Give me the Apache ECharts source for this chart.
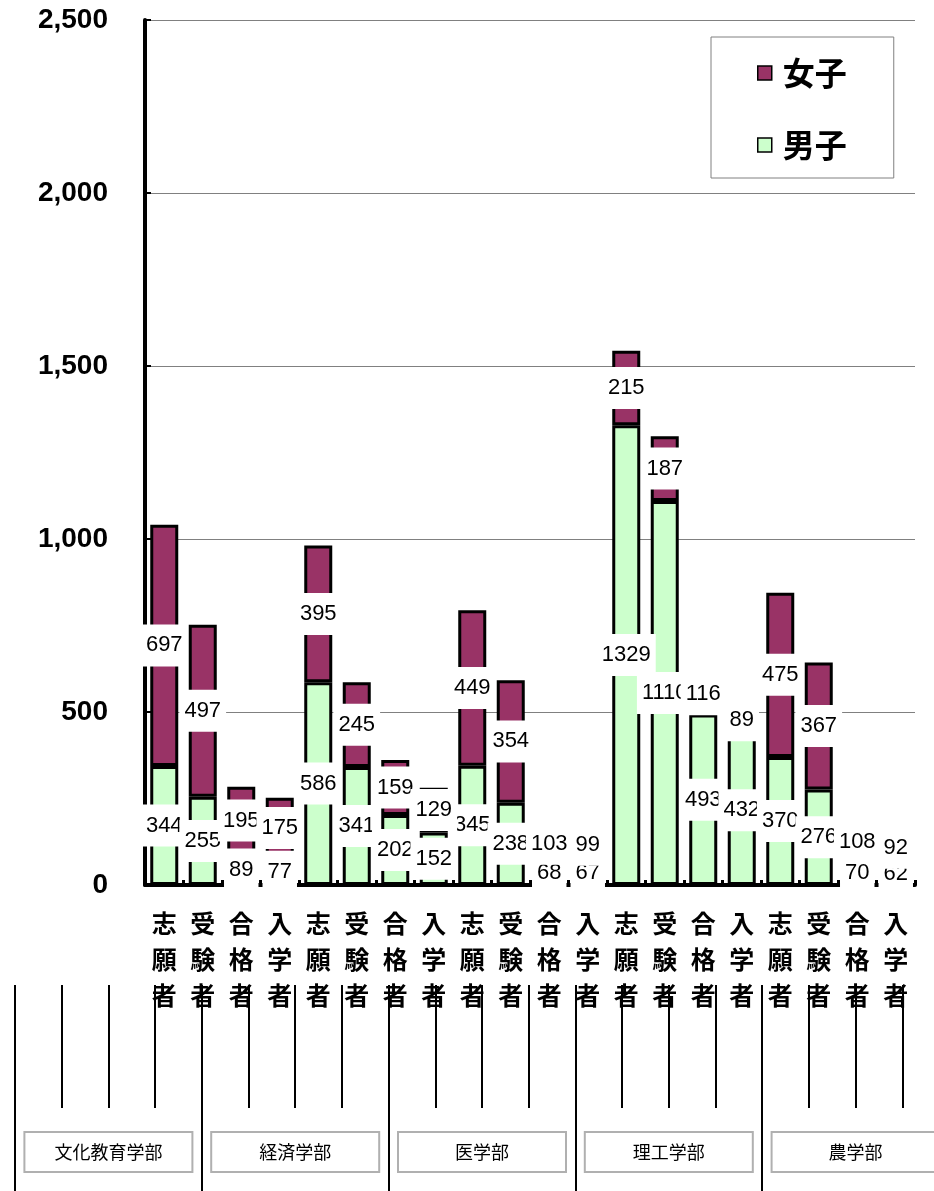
<!DOCTYPE html>
<html>
<head>
<meta charset="utf-8">
<script src="https://cdn.jsdelivr.net/npm/echarts@6/dist/echarts.min.js"></script>
<style>
  html, body { margin: 0; padding: 0; background: #fff; overflow: hidden; }
  /* a bit wider than the window so the lower 学部 row can run past the right edge */
  #chart { width: 950px; height: 1191px; }
</style>
</head>
<body>
<div id="chart"></div>
<script>
// 区分 (each faculty: 志願者, 受験者, 合格者, 入学者)
const stages = ['志願者', '受験者', '合格者', '入学者',
                '志願者', '受験者', '合格者', '入学者',
                '志願者', '受験者', '合格者', '入学者',
                '志願者', '受験者', '合格者', '入学者',
                '志願者', '受験者', '合格者', '入学者']
const faculties = ['文化教育学部', '経済学部', '医学部', '理工学部', '農学部']

const male   = [344, 255, 89, 77, 586, 341, 202, 152, 345, 238, 68, 67, 1329, 1110, 493, 432, 370, 276, 70, 62]
const female = [697, 497, 195, 175, 395, 245, 159, 129, 449, 354, 103, 99, 215, 187, 116, 89, 475, 367, 108, 92]

const yTicks = { min: 0, max: 2500, interval: 500 }

const chart = echarts.init(document.getElementById('chart'))

const valueLabel = {
	show: true,
	position: 'inside',
	formatter: '{c}',
	color: '#000',
	fontFamily: 'Liberation Sans',
	fontSize: 22,
	backgroundColor: '#fff',
	padding: [10, 5]
}

chart.setOption({
	animation: false,
	legend: {
		data: ['女子', '男子'],
		orient: 'vertical',
		left: 711,
		top: 37,
		padding: [20, 47, 17, 46],
		itemGap: 40,
		itemWidth: 14,
		itemHeight: 14,
		icon: 'rect',
		itemStyle: { borderColor: '#000', borderWidth: 1.5 },
		borderColor: '#808080',
		borderWidth: 1,
		textStyle: { fontFamily: 'Noto Sans CJK JP', fontSize: 32, fontWeight: 'bold', color: '#000', padding: [0, 0, 0, 6] }
	},
	grid: [
		{ left: 145, right: 35, top: 20, bottom: 306 },
		{ left: 15, width: 934, top: 900, height: 85 },
		{ left: 15, width: 934, top: 900, height: 85 }
	],
	xAxis: [
		{
			type: 'category',
			gridIndex: 0,
			data: stages.map(s => s.split('').join('\n')),
			axisLine: { lineStyle: { color: '#000', width: 4 } },
			axisTick: { show: true, inside: true, length: 5, lineStyle: { color: '#000', width: 3 } },
			axisLabel: {
				interval: 0,
				margin: 20,
				color: '#000',
				fontFamily: 'Noto Sans CJK JP',
				fontSize: 25,
				fontWeight: 'bold',
				lineHeight: 36
			}
		},
		{
			// 細い区切り線
			type: 'category',
			gridIndex: 1,
			data: stages,
			axisLine: { show: false },
			axisTick: { show: true, interval: 0, length: 123, lineStyle: { color: '#000', width: 2 } },
			axisLabel: { show: false }
		},
		{
			// 学部
			type: 'category',
			gridIndex: 2,
			data: faculties,
			axisLine: { show: false },
			axisTick: { show: true, interval: 0, length: 206, lineStyle: { color: '#000', width: 2 } },
			axisLabel: {
				interval: 0,
				margin: 148,
				color: '#000',
				fontFamily: 'Noto Sans CJK JP',
				fontSize: 18,
				backgroundColor: '#fff',
				borderColor: '#b0b0b0',
				borderWidth: 2,
				width: 166,
				height: 38,
				lineHeight: 38,
				align: 'center'
			}
		}
	],
	yAxis: [
		{
			type: 'value',
			gridIndex: 0,
			min: yTicks.min,
			max: yTicks.max,
			interval: yTicks.interval,
			axisLine: { show: true, lineStyle: { color: '#000', width: 4 } },
			axisTick: { show: true, inside: true, length: 6, lineStyle: { color: '#000', width: 2 } },
			splitLine: { lineStyle: { color: '#808080', width: 1 } },
			axisLabel: {
				margin: 37,
				color: '#000',
				fontFamily: 'Liberation Sans',
				fontSize: 28,
				fontWeight: 'bold',
				formatter: v => v.toLocaleString('en-US')
			}
		},
		{ type: 'value', gridIndex: 1, show: false },
		{ type: 'value', gridIndex: 2, show: false }
	],
	series: [
		{
			name: '男子',
			type: 'bar',
			stack: 'total',
			barWidth: 28,
			data: male,
			itemStyle: { color: '#CCFFCC', borderColor: '#000', borderWidth: 3 },
			label: valueLabel
		},
		{
			name: '女子',
			type: 'bar',
			stack: 'total',
			barWidth: 28,
			data: female,
			itemStyle: { color: '#993366', borderColor: '#000', borderWidth: 3 },
			label: valueLabel
		}
	]
})
</script>
</body>
</html>
